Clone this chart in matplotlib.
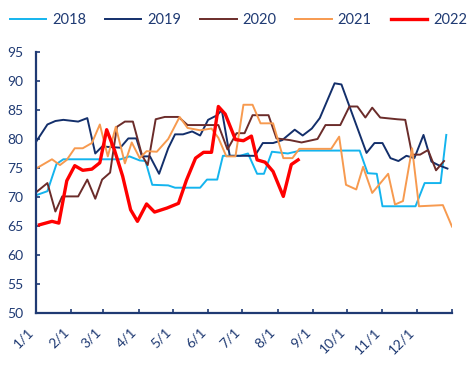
import pandas as pd
import matplotlib
matplotlib.use("Agg")
import matplotlib.pyplot as plt

plt.rcParams['font.family'] = ['Lato', 'DejaVu Sans']

# day of year (0 = Jan 1) and values
days_2018 = [0, 10, 18, 24, 74, 82, 91, 96, 102, 116, 122, 144, 150, 159, 164, 179, 186,
             194, 200, 207, 221, 232, 284, 291, 299, 304, 333, 341, 355, 360]
vals_2018 = [70.3, 71.0, 75.7, 76.5, 76.5, 77.0, 76.3, 76.2, 72.1, 72.0, 71.6, 71.6, 73.0,
             73.0, 77.1, 77.1, 77.5, 74.0, 74.0, 77.8, 77.5, 78.0, 78.0, 74.1, 74.0, 68.4,
             68.4, 72.4, 72.4, 80.7]

days_2019 = [0, 10, 17, 24, 37, 45, 52, 58, 74, 81, 88, 93, 100, 108, 116, 122, 129, 137,
             144, 151, 159, 163, 170, 192, 199, 208, 216, 227, 234, 242, 249, 262, 268, 290,
             297, 304, 311, 318, 325, 332, 340, 347, 353, 361]
vals_2019 = [79.5, 82.5, 83.1, 83.3, 83.0, 83.6, 77.5, 78.7, 78.5, 80.1, 80.1, 77.0, 77.0,
             74.0, 78.4, 80.8, 80.8, 81.3, 80.6, 83.3, 84.1, 85.0, 77.1, 77.1, 79.3, 79.3,
             79.8, 81.6, 80.6, 81.8, 83.6, 89.6, 89.4, 77.6, 79.3, 79.3, 76.7, 76.2, 77.1,
             76.7, 80.7, 76.1, 75.5, 74.9]

days_2020 = [0, 10, 17, 23, 37, 45, 52, 58, 65, 71, 78, 85, 93, 98, 105, 113, 125, 133, 160,
             168, 176, 183, 190, 204, 211, 223, 233, 247, 254, 267, 275, 282, 289, 295, 302,
             317, 324, 330, 337, 344, 351, 358]
vals_2020 = [70.8, 72.4, 67.5, 70.1, 70.1, 73.0, 69.7, 73.0, 74.2, 82.1, 83.0, 83.0, 77.2,
             75.5, 83.4, 83.8, 83.8, 82.4, 82.4, 78.2, 81.0, 81.0, 84.1, 84.1, 80.1, 79.8,
             79.4, 80.0, 82.4, 82.4, 85.6, 85.6, 83.7, 85.4, 83.7, 83.4, 83.3, 77.3, 77.3,
             78.1, 74.6, 76.2]

days_2021 = [0, 14, 21, 27, 34, 41, 49, 56, 63, 70, 78, 84, 91, 97, 106, 116, 126, 133, 144,
             154, 160, 167, 175, 182, 190, 197, 208, 217, 225, 231, 259, 266, 272, 281, 287,
             295, 309, 315, 322, 330, 336, 357, 365]
vals_2021 = [74.9, 76.5, 75.5, 76.4, 78.4, 78.4, 79.3, 82.5, 77.0, 82.1, 75.8, 79.4, 76.7,
             77.9, 77.8, 80.0, 83.8, 81.9, 81.5, 81.8, 80.2, 77.0, 77.0, 85.9, 85.9, 82.7,
             82.7, 76.7, 76.7, 78.3, 78.3, 80.4, 72.1, 71.3, 75.2, 70.7, 74.0, 68.7, 69.3,
             78.4, 68.4, 68.6, 64.9]

days_2022 = [3, 14, 20, 27, 34, 41, 49, 56, 62, 69, 76, 83, 89, 97, 104, 115, 125, 132, 140,
             147, 154, 160, 166, 175, 182, 189, 194, 201, 208, 217, 224, 230]
vals_2022 = [65.2, 65.8, 65.5, 72.8, 75.4, 74.6, 74.8, 75.9, 81.6, 78.0, 73.6, 67.8, 65.8,
             68.8, 67.4, 68.1, 68.9, 72.9, 76.7, 77.7, 77.7, 85.6, 84.3, 79.9, 79.7, 80.5,
             76.4, 76.0, 74.4, 70.1, 75.6, 76.4]

month_labels = ['1/1', '2/1', '3/1', '4/1', '5/1', '6/1', '7/1', '8/1', '9/1', '10/1',
                '11/1', '12/1']

navy = '#1F3A73'
base = pd.Timestamp('2021-01-01')


def to_dates(days):
    return base + pd.to_timedelta(days, unit='D')


fig = plt.figure(figsize=(4.72, 3.66), dpi=100)
ax = fig.add_axes([0.0763, 0.1448, 0.8813, 0.7132])

ax.plot(to_dates(days_2018), vals_2018, color='#14B4EE', lw=1.4, label='2018')
ax.plot(to_dates(days_2019), vals_2019, color='#132F6B', lw=1.4, label='2019')
ax.plot(to_dates(days_2020), vals_2020, color='#6B2C2A', lw=1.4, label='2020')
ax.plot(to_dates(days_2021), vals_2021, color='#F79A4F', lw=1.4, label='2021')
ax.plot(to_dates(days_2022), vals_2022, color='#FF0000', lw=2.4, label='2022')

ax.set_ylim(50, 95)
ax.set_yticks(range(50, 96, 5))
ax.set_xlim(base, base + pd.Timedelta(days=365))
ticks = pd.date_range(base, periods=13, freq='MS')
ax.set_xticks(ticks)
ax.set_xticklabels(month_labels + [''], rotation=45, ha='right')

for s in ['top', 'right']:
    ax.spines[s].set_visible(False)
for s in ['left', 'bottom']:
    ax.spines[s].set_color(navy)
    ax.spines[s].set_linewidth(1.6)
ax.tick_params(axis='both', direction='in', length=3, width=1.2, color=navy,
               labelcolor=navy, labelsize=10)
ax.tick_params(axis='y', pad=9)
ax.tick_params(axis='x', pad=9)

leg = fig.legend(loc='center', bbox_to_anchor=(0.505, 0.945), ncol=5, frameon=False,
                 fontsize=10.5, handlelength=2.5, handletextpad=0.4, columnspacing=1.3)
for t in leg.get_texts():
    t.set_color(navy)

fig.savefig('out.png', dpi=100)
